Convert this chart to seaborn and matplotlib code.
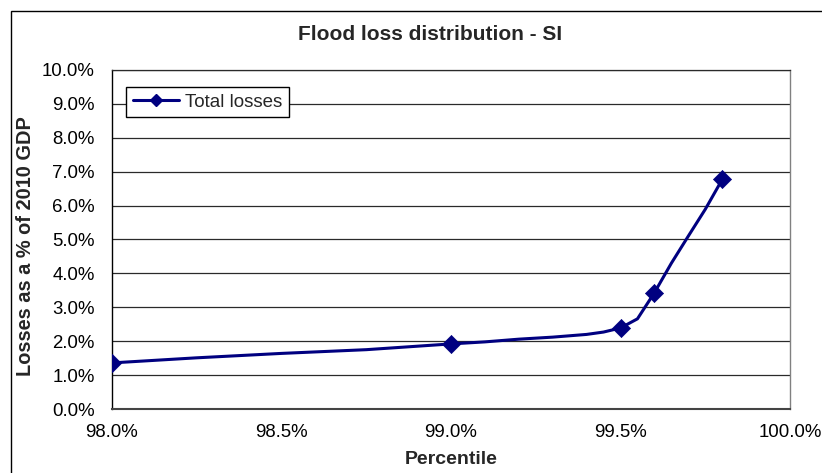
import matplotlib
matplotlib.use('Agg')
import matplotlib.pyplot as plt
from matplotlib.lines import Line2D
from matplotlib.patches import Rectangle
from matplotlib.ticker import FuncFormatter, MultipleLocator
import seaborn as sns

# percentile (%) and losses (% of 2010 GDP)
line_pct = [98.0, 98.25, 98.5, 98.75, 99.0, 99.1, 99.2, 99.3, 99.4, 99.45,
            99.5, 99.55, 99.6, 99.65, 99.7, 99.75, 99.8]
line_loss = [1.36, 1.51, 1.64, 1.75, 1.92, 1.98, 2.06, 2.12, 2.20, 2.27,
             2.39, 2.66, 3.43, 4.30, 5.10, 5.89, 6.77]

marker_pct = [98.0, 99.0, 99.5, 99.6, 99.8]
marker_loss = [1.36, 1.92, 2.39, 3.43, 6.77]

series_name = 'Total losses'
title = 'Flood loss distribution - SI'
navy = '#000080'

sns.set_style('white')
plt.rcParams['font.family'] = ['Liberation Sans', 'DejaVu Sans']

W, H = 822, 473
fig = plt.figure(figsize=(W / 100, H / 100), dpi=100)
ax = fig.add_axes([112 / W, 1 - 409 / H, (790 - 112) / W, (409 - 70) / H])

sns.lineplot(x=line_pct, y=line_loss, color=navy, linewidth=2.2, ax=ax)
sns.scatterplot(x=marker_pct, y=marker_loss, marker='D', s=85, color=navy,
                edgecolor=navy, linewidth=0.5, ax=ax, zorder=3)

ax.set_xlim(98.0, 100.0)
ax.set_ylim(0, 10)
ax.xaxis.set_major_locator(MultipleLocator(0.5))
ax.yaxis.set_major_locator(MultipleLocator(1.0))
pct_fmt = FuncFormatter(lambda v, _: f'{v:.1f}%')
ax.xaxis.set_major_formatter(pct_fmt)
ax.yaxis.set_major_formatter(pct_fmt)

ax.grid(axis='y', color='#2a2a2a', linewidth=0.9)
ax.grid(axis='x', visible=False)
ax.tick_params(axis='both', direction='out', labelsize=13.4, colors='black')
ax.tick_params(axis='x', length=3.6, width=1, pad=7.0, color='#444444')
ax.tick_params(axis='y', length=4.3, width=1, pad=8.0)

for side, col, lw in [('left', 'black', 1.0), ('bottom', '#444444', 1.5),
                      ('top', '#2a2a2a', 0.9), ('right', '#808080', 1.0)]:
    ax.spines[side].set_visible(True)
    ax.spines[side].set_color(col)
    ax.spines[side].set_linewidth(lw)

ax.set_xlabel('Percentile', fontsize=14, fontweight='bold')
ax.set_ylabel('Losses as a % of 2010 GDP', fontsize=14.4, fontweight='bold')
ax.xaxis.set_label_coords(0.5, -0.125)
ax.yaxis.set_label_coords(-0.113, 0.48)

fig.text(430 / W, 1 - 34 / H, title, ha='center', va='center',
         fontsize=15, fontweight='bold')

handle = Line2D([], [], color=navy, linewidth=2.2, marker='D', markersize=6)
leg = ax.legend([handle], [series_name], loc='upper left',
                bbox_to_anchor=(0.0206, 0.95), borderaxespad=0,
                fontsize=13.5, frameon=True, fancybox=False, framealpha=1,
                edgecolor='black', handlelength=2.5, handletextpad=0.3,
                borderpad=0.35)
leg.get_frame().set_linewidth(1.0)

# outer chart-area border (runs off the right and bottom edges)
fig.patches.append(Rectangle((11 / W, -0.1), 1.2, (H - 11) / H + 0.1,
                             transform=fig.transFigure, fill=False,
                             edgecolor='black', linewidth=1.0))

fig.savefig('out.png', dpi=100)
